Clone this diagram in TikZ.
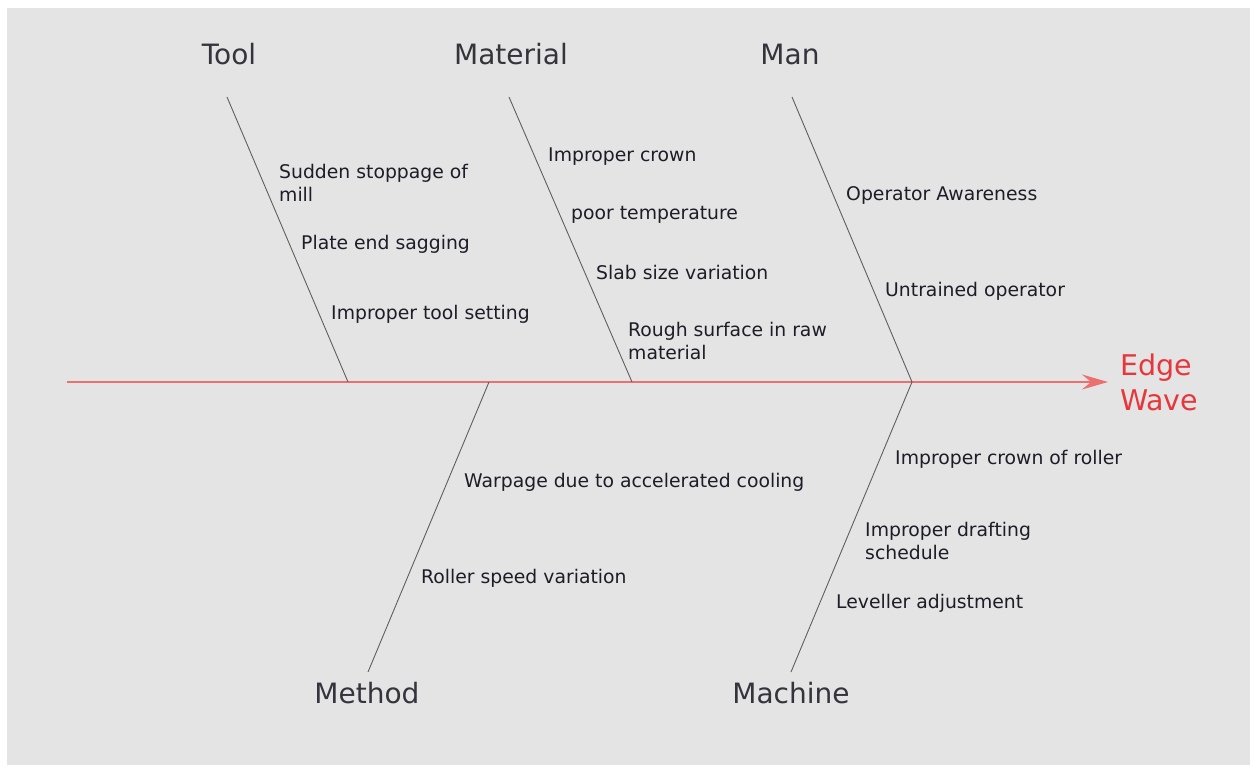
\documentclass[tikz,border=0pt]{standalone}
\usepackage{fontspec}
\setmainfont{DejaVu Sans}
\usetikzlibrary{arrows.meta}
\definecolor{fbback}{RGB}{228,228,228}
\definecolor{fbred}{RGB}{230,55,60}
\definecolor{fbpink}{RGB}{236,112,112}
\definecolor{fbgray}{RGB}{95,95,95}
\definecolor{fbtext}{RGB}{30,28,38}

\begin{document}
\begin{tikzpicture}[x=1pt,y=-1pt,
  fbcause/.style={inner sep=0pt,font=\fontsize{28}{32}\selectfont,text=fbtext!90},
  fbitem/.style={anchor=west,align=left,inner sep=0pt,font=\fontsize{18.8}{23}\selectfont,text=fbtext},
  fbbone/.style={fbgray,line width=0.9pt},
  fbspine/.style={-{Stealth[length=26pt,width=15pt,inset=9pt]},fbpink,line width=1.6pt}
]
  % Background
  \useasboundingbox (0,0) rectangle (1255,767);
  \fill[white] (0,0) rectangle (1255,767);
  \fill[fbback] (7,8) rectangle (1250,765);

  % Effect and spine
  \node[anchor=west,align=left,inner sep=0pt,outer sep=12pt,text=fbred,
    font=\fontsize{28.5}{35}\selectfont] (effect) at (1108,382) {Edge\\Wave};
  \coordinate (tail) at (67,382);
  \draw[fbspine] (tail) -- (effect.west);

  % Cause labels
  \node[fbcause] (tool) at (229,54) {Tool};
  \node[fbcause] (material) at (511,54) {Material};
  \node[fbcause] (man) at (790,54) {Man};
  \node[fbcause] (method) at (367,693) {Method};
  \node[fbcause] (machine) at (791,693) {Machine};

  % Bones
  \coordinate (toolT) at (227,97);      \coordinate (toolJ) at (348,382);
  \coordinate (materialT) at (509,97);  \coordinate (materialJ) at (632,382);
  \coordinate (manT) at (792,97);       \coordinate (manJ) at (912,382);
  \coordinate (methodB) at (368,672);   \coordinate (methodJ) at (489,382);
  \coordinate (machineB) at (791,672);  \coordinate (machineJ) at (912,382);
  \draw[fbbone] (toolT) -- (toolJ);
  \draw[fbbone] (materialT) -- (materialJ);
  \draw[fbbone] (manT) -- (manJ);
  \draw[fbbone] (methodB) -- (methodJ);
  \draw[fbbone] (machineB) -- (machineJ);

  % Tool
  \node[fbitem] (t1) at (279,183) {Sudden stoppage of\\mill};
  \node[fbitem] (t2) at (301,244) {Plate end sagging};
  \node[fbitem] (t3) at (331,314) {Improper tool setting};

  % Material
  \node[fbitem] (m1) at (548,157) {Improper crown};
  \node[fbitem] (m2) at (571,215) {poor temperature};
  \node[fbitem] (m3) at (596,272) {Slab size variation};
  \node[fbitem] (m4) at (628,341) {Rough surface in raw\\material};

  % Man
  \node[fbitem] (n1) at (846,195) {Operator Awareness};
  \node[fbitem] (n2) at (885,291) {Untrained operator};

  % Method
  \node[fbitem] (d1) at (464,482) {Warpage due to accelerated cooling};
  \node[fbitem] (d2) at (421,578) {Roller speed variation};

  % Machine
  \node[fbitem] (c1) at (895,459) {Improper crown of roller};
  \node[fbitem] (c2) at (865,541) {Improper drafting\\schedule};
  \node[fbitem] (c3) at (836,603) {Leveller adjustment};
\end{tikzpicture}
\end{document}
